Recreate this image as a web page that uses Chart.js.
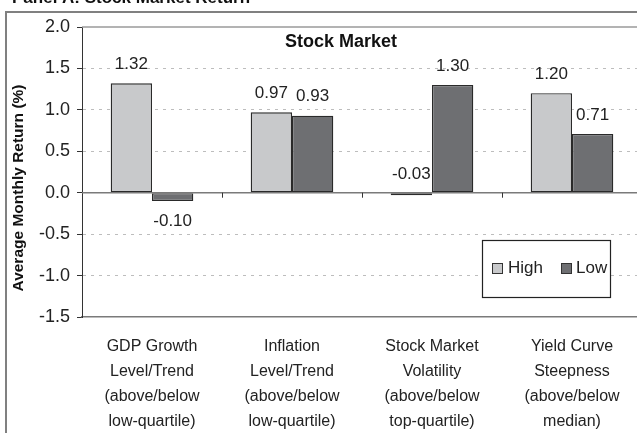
<!DOCTYPE html>
<html>
<head>
<meta charset="utf-8">
<script src="https://cdn.jsdelivr.net/npm/chart.js@4.4.1/dist/chart.umd.min.js"></script>
<style>
  html, body { margin: 0; padding: 0; background: #fff; overflow: hidden; }
  #wrap { width: 645px; height: 433px; }
</style>
</head>
<body>
<div id="wrap"><canvas id="c" width="645" height="433"></canvas></div>
<script>
// ---- data ----
const categories = [
  ["GDP Growth", "Level/Trend", "(above/below", "low-quartile)"],
  ["Inflation", "Level/Trend", "(above/below", "low-quartile)"],
  ["Stock Market", "Volatility", "(above/below", "top-quartile)"],
  ["Yield Curve", "Steepness", "(above/below", "median)"]
];
const seriesNames = ["High", "Low"];
const highValues = [1.32, 0.97, -0.03, 1.20];
const lowValues = [-0.10, 0.93, 1.30, 0.71];
const yTicks = [2.0, 1.5, 1.0, 0.5, 0.0, -0.5, -1.0, -1.5];
const panelTitle = "Panel A: Stock Market Return";
const chartTitle = "Stock Market";
const yAxisTitle = "Average Monthly Return (%)";

const FONT = "'Liberation Sans', Arial, Helvetica, sans-serif";
const colors = ["#c8c9cb", "#6e6f72"];

const decorPlugin = {
  id: 'decor',
  beforeDraw(chart) {
    const ctx = chart.ctx;
    ctx.save();
    ctx.fillStyle = '#fff';
    ctx.fillRect(0, 0, chart.width, chart.height);
    // panel title (cut off at top)
    ctx.fillStyle = '#111';
    ctx.font = "bold 17px " + FONT;
    ctx.textAlign = 'left';
    ctx.textBaseline = 'alphabetic';
    ctx.fillText(panelTitle, 12, 3);
    // outer frame
    ctx.strokeStyle = '#808080';
    ctx.lineWidth = 2;
    ctx.beginPath();
    ctx.moveTo(6, chart.height);
    ctx.lineTo(6, 12);
    ctx.lineTo(chart.width, 12);
    ctx.stroke();
    ctx.restore();
  },
  beforeDatasetsDraw(chart) {
    const ctx = chart.ctx;
    const a = chart.chartArea;
    const y = chart.scales.y;
    ctx.save();
    // top solid gridline
    ctx.strokeStyle = '#9a9a9a';
    ctx.lineWidth = 1.5;
    ctx.beginPath();
    const yTop = y.getPixelForValue(2.0);
    ctx.moveTo(a.left, yTop); ctx.lineTo(a.right, yTop);
    ctx.stroke();
    ctx.restore();
  },
  afterDatasetsDraw(chart) {
    const ctx = chart.ctx;
    const a = chart.chartArea;
    const y = chart.scales.y;
    const x = chart.scales.x;
    ctx.save();
    // zero line
    const y0 = y.getPixelForValue(0);
    ctx.strokeStyle = '#7a7a7a';
    ctx.lineWidth = 1.5;
    ctx.beginPath();
    ctx.moveTo(a.left, y0); ctx.lineTo(a.right, y0);
    ctx.stroke();
    // category tick marks on zero line
    ctx.strokeStyle = '#333';
    ctx.lineWidth = 1;
    for (let i = 0; i < categories.length - 1; i++) {
      const xm = Math.round((x.getPixelForValue(i) + x.getPixelForValue(i + 1)) / 2) + 0.5;
      ctx.beginPath();
      ctx.moveTo(xm, y0); ctx.lineTo(xm, y0 + 5);
      ctx.stroke();
    }
    // data labels
    ctx.fillStyle = '#222';
    ctx.font = "17px " + FONT;
    ctx.textAlign = 'center';
    ctx.textBaseline = 'middle';
    chart.data.datasets.forEach((ds, di) => {
      const meta = chart.getDatasetMeta(di);
      meta.data.forEach((el, i) => {
        const v = ds.data[i];
        let ty;
        if (v < -0.05) ty = Math.max(el.y, el.base) + 20;
        else ty = Math.min(el.y, el.base) - 19;
        ctx.fillText(v.toFixed(2), el.x, ty);
      });
    });
    // chart title
    ctx.fillStyle = '#111';
    ctx.font = "bold 18px " + FONT;
    ctx.fillText(chartTitle, 341, 42);
    // y axis title
    ctx.save();
    ctx.translate(19, 188);
    ctx.rotate(-Math.PI / 2);
    ctx.font = "bold 15.5px " + FONT;
    ctx.fillStyle = '#111';
    ctx.fillText(yAxisTitle, 0, 0);
    ctx.restore();
    // legend
    const lx = 482, ly = 240, lw = 128, lh = 57;
    ctx.fillStyle = '#fff';
    ctx.fillRect(lx, ly, lw, lh);
    ctx.strokeStyle = '#222';
    ctx.lineWidth = 1.2;
    ctx.strokeRect(lx + 0.5, ly + 0.5, lw, lh);
    const items = [{sx: 492, tx: 508}, {sx: 561, tx: 576}];
    ctx.font = "17px " + FONT;
    ctx.textAlign = 'left';
    ctx.textBaseline = 'middle';
    seriesNames.forEach((n, i) => {
      ctx.fillStyle = colors[i];
      ctx.fillRect(items[i].sx, 263, 11, 11);
      ctx.strokeStyle = '#333';
      ctx.lineWidth = 1;
      ctx.strokeRect(items[i].sx + 0.5, 263.5, 10, 10);
      ctx.fillStyle = '#222';
      ctx.fillText(n, items[i].tx, 268);
    });
    ctx.restore();
  }
};

new Chart(document.getElementById('c'), {
  type: 'bar',
  data: {
    labels: categories,
    datasets: [
      { label: seriesNames[0], data: highValues, backgroundColor: colors[0], borderColor: '#2a2a2a', borderWidth: 1.3, borderSkipped: false },
      { label: seriesNames[1], data: lowValues, backgroundColor: colors[1], borderColor: '#2a2a2a', borderWidth: 1.3, borderSkipped: false }
    ]
  },
  options: {
    responsive: false,
    animation: false,
    devicePixelRatio: 1,
    layout: { padding: { left: 0, top: 27, right: 3, bottom: 0 } },
    categoryPercentage: 0.59,
    barPercentage: 1.0,
    plugins: { legend: { display: false }, tooltip: { enabled: false }, title: { display: false } },
    scales: {
      x: {
        grid: { display: false, drawTicks: false },
        border: { display: true, color: '#7a7a7a', width: 1.5 },
        ticks: {
          color: '#222',
          font: { family: FONT, size: 16, lineHeight: 1.56 },
          padding: 17,
          maxRotation: 0,
          autoSkip: false
        },
        afterFit(s) { s.height = 116; }
      },
      y: {
        min: -1.5, max: 2.0,
        afterBuildTicks(s) { s.ticks = yTicks.map(v => ({ value: v })); },
        grid: {
          drawTicks: true,
          tickLength: 5,
          tickColor: '#333',
          tickBorderDash: [],
          color: ctx => (ctx.tick && (ctx.tick.value === 0 || ctx.tick.value === 2 || ctx.tick.value === -1.5)) ? 'rgba(0,0,0,0)' : '#bdbdbd',
          lineWidth: 1
        },
        border: { display: true, color: '#333', width: 1, dash: [3, 5] },
        ticks: {
          color: '#222',
          font: { family: FONT, size: 18 },
          padding: 7,
          callback: v => Number(v).toFixed(1)
        },
        afterFit(s) { s.width = 82; }
      }
    }
  },
  plugins: [decorPlugin]
});
</script>
</body>
</html>
